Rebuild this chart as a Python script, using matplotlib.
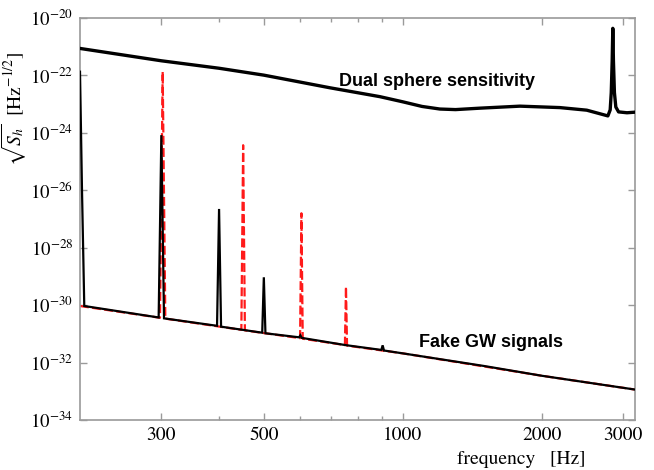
import matplotlib
matplotlib.use("Agg")
import matplotlib.pyplot as plt
import numpy as np
from matplotlib.ticker import FixedLocator, FixedFormatter, NullLocator

plt.rcParams['mathtext.fontset'] = 'stix'

# Dual sphere sensitivity (frequency in Hz, log10 of sqrt(S_h))
sens_freq = [200, 300, 400, 500, 695, 892, 1000, 1100, 1202, 1300, 1468, 1792, 2187, 2500, 2778,
             2810, 2825, 2838, 2847, 2856, 2870, 2890, 2930, 3055, 3180]
sens_log = [-21.06, -21.49, -21.75, -21.99, -22.43, -22.74, -22.92, -23.08, -23.17, -23.19,
            -23.14, -23.07, -23.12, -23.21, -23.41, -23.20, -22.60, -21.50, -20.36, -21.50,
            -22.60, -23.10, -23.27, -23.30, -23.28]

# Fake GW signals, black solid series
fake_black_freq = [200, 202, 204.3, 296, 300, 304, 396, 400, 404, 496, 500, 504,
                   596, 600, 604, 750, 898, 904, 910, 1000, 1500, 2000, 3180]
fake_black_log = [-21.87, -26.0, -30.03, -30.43, -24.08, -30.46, -30.72, -26.65, -30.75,
                  -30.96, -29.03, -30.98, -31.12, -31.05, -31.14, -31.39, -31.56, -31.40,
                  -31.58, -31.68, -32.12, -32.46, -32.94]

# Fake GW signals, red dashed series
fake_red_freq = [200, 298, 302, 306, 447, 451, 455, 599, 603, 607, 749, 753, 757,
                 1000, 2000, 3180]
fake_red_log = [-30.03, -30.44, -21.87, -30.47, -30.86, -24.43, -30.88, -31.15, -26.80,
                -31.17, -31.39, -29.36, -31.41, -31.68, -32.46, -32.94]

x_major = [300, 500, 1000, 2000, 3000]
x_major_labels = ['300', '500', '1000', '2000', '3000']
x_minor = [400, 600, 700, 800, 900]
y_major = [1e-34, 1e-32, 1e-30, 1e-28, 1e-26, 1e-24, 1e-22, 1e-20]
y_major_labels = [r'$10^{-34}$', r'$10^{-32}$', r'$10^{-30}$', r'$10^{-28}$',
                  r'$10^{-26}$', r'$10^{-24}$', r'$10^{-22}$', r'$10^{-20}$']

fig = plt.figure(figsize=(6.54, 4.70), dpi=100)
ax = fig.add_axes([80/654, 1-420/470, 555/654, 402/470])

ax.plot(fake_red_freq, 10.0**np.array(fake_red_log), color='#ff1a1a', lw=1.6,
        dashes=(4, 1.5), zorder=2)
ax.plot(fake_black_freq, 10.0**np.array(fake_black_log), color='black', lw=1.6,
        zorder=3, solid_joinstyle='miter')
ax.plot(sens_freq, 10.0**np.array(sens_log), color='black', lw=2.4, zorder=3)

ax.set_xscale('log')
ax.set_yscale('log')
ax.set_xlim(200, 3180)
ax.set_ylim(1e-34, 1e-20)

ax.xaxis.set_major_locator(FixedLocator(x_major))
ax.xaxis.set_major_formatter(FixedFormatter(x_major_labels))
ax.xaxis.set_minor_locator(FixedLocator(x_minor))
ax.xaxis.set_minor_formatter(FixedFormatter([''] * len(x_minor)))
ax.yaxis.set_major_locator(FixedLocator(y_major))
ax.yaxis.set_major_formatter(FixedFormatter(y_major_labels))
ax.yaxis.set_minor_locator(NullLocator())

spine_col = '#9a9a9a'
for s in ax.spines.values():
    s.set_color(spine_col)
    s.set_linewidth(1.2)
ax.tick_params(which='both', direction='in', top=True, right=True, color=spine_col,
               width=1.0)
ax.tick_params(axis='x', labelsize=14)
ax.tick_params(axis='y', labelsize=13.5)
ax.tick_params(which='major', length=5, pad=5)
ax.tick_params(which='minor', length=3)
for lab in ax.get_xticklabels() + ax.get_yticklabels():
    lab.set_fontfamily('STIXGeneral')

ax.text(0.643, 0.841, 'Dual sphere sensitivity', transform=ax.transAxes,
        ha='center', va='center', fontsize=13, fontweight='bold',
        family=['Liberation Sans', 'DejaVu Sans'])
ax.text(0.741, 0.194, 'Fake GW signals', transform=ax.transAxes,
        ha='center', va='center', fontsize=13, fontweight='bold',
        family=['Liberation Sans', 'DejaVu Sans'])

ax.set_xlabel('frequency   [Hz]', fontsize=14, family='STIXGeneral')
ax.xaxis.set_label_coords(0.795, -0.078)
ax.set_ylabel(r'$\sqrt{S_h}$  [Hz$^{-1/2}$]', fontsize=14, family='STIXGeneral')
ax.yaxis.set_label_coords(-0.092, 0.775)

fig.savefig('out.png', dpi=100)
